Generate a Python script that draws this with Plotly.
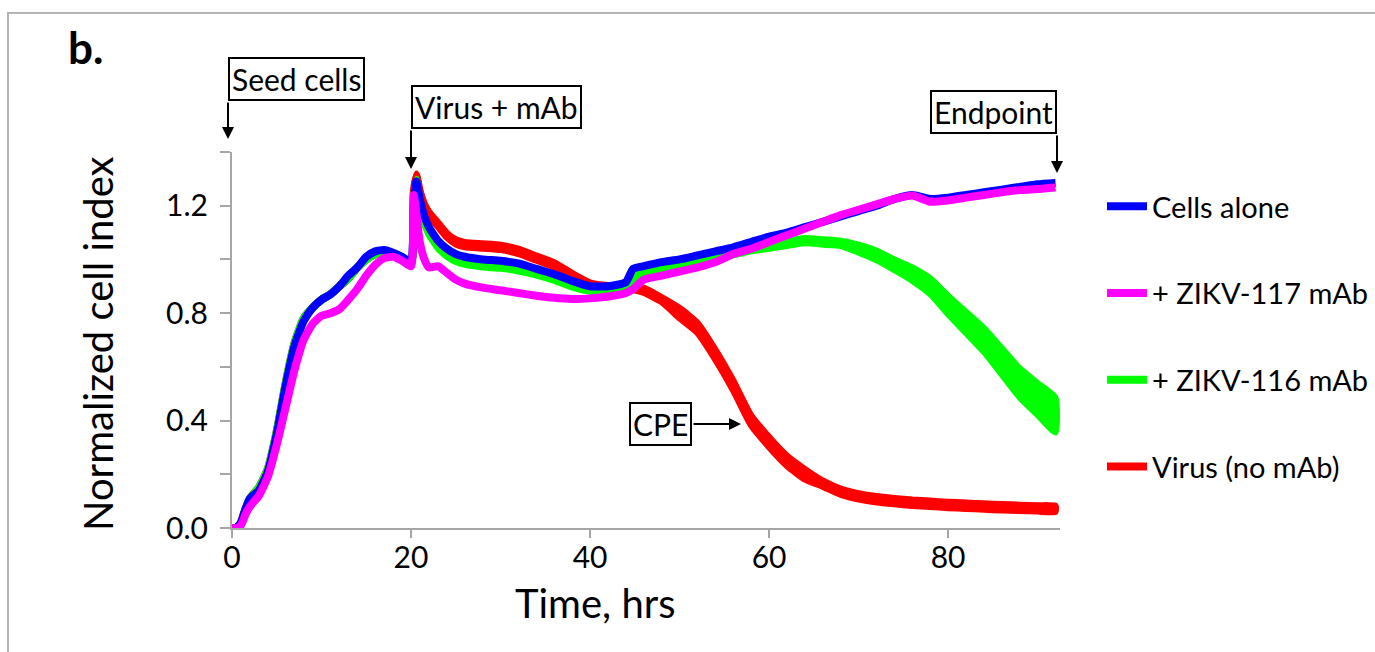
import plotly.graph_objects as go

time_hrs = [0, 0.5, 1, 1.5, 2, 3, 4, 5, 6, 7, 8, 9, 10, 11, 12, 13, 14, 15, 16, 17, 18, 19, 20,
            20.3, 20.6, 21, 21.5, 22, 23, 24, 25, 26, 28, 30, 32, 34, 36, 38, 40, 42, 44, 44.8,
            46, 48, 50, 52, 54, 56, 58, 60, 62, 64, 66, 68, 70, 72, 74, 76, 78, 80, 82, 84, 86, 88, 90, 92]

cells_alone = [0, 0, 0.02, 0.07, 0.11, 0.14, 0.21, 0.35, 0.53, 0.68, 0.77, 0.82, 0.85, 0.87, 0.90, 0.94, 0.97, 1.01, 1.03, 1.035, 1.025, 1.01, 0.99,
               1.20, 1.29, 1.22, 1.16, 1.12, 1.07, 1.04, 1.02, 1.01, 1.0, 0.995, 0.985, 0.965, 0.945, 0.92, 0.90, 0.90, 0.915, 0.965,
               0.975, 0.99, 1.0, 1.015, 1.03, 1.045, 1.065, 1.085, 1.10, 1.12, 1.14, 1.16, 1.18, 1.20, 1.225, 1.24, 1.225, 1.23, 1.24, 1.25, 1.26, 1.27, 1.28, 1.285]

zikv117 = [0, 0, 0.01, 0.05, 0.08, 0.12, 0.19, 0.31, 0.45, 0.59, 0.70, 0.76, 0.79, 0.80, 0.815, 0.85, 0.89, 0.94, 0.98, 1.005, 1.01, 0.995, 0.975,
           1.24, 1.17, 1.06, 1.0, 0.97, 0.975, 0.95, 0.925, 0.91, 0.895, 0.885, 0.875, 0.865, 0.857, 0.853, 0.855, 0.862, 0.875, 0.89,
           0.925, 0.94, 0.955, 0.97, 0.99, 1.02, 1.04, 1.065, 1.09, 1.115, 1.14, 1.165, 1.185, 1.205, 1.225, 1.238, 1.215, 1.22, 1.23, 1.24, 1.25, 1.258, 1.262, 1.268]

zikv116 = [0, 0, 0.02, 0.07, 0.11, 0.15, 0.22, 0.36, 0.54, 0.69, 0.78, 0.82, 0.85, 0.87, 0.90, 0.93, 0.97, 1.0, 1.02, 1.03, 1.02, 1.0, 0.98,
           1.22, 1.29, 1.20, 1.14, 1.10, 1.05, 1.02, 1.0, 0.99, 0.98, 0.975, 0.965, 0.95, 0.93, 0.905, 0.89, 0.89, 0.90, 0.93,
           0.945, 0.96, 0.975, 0.99, 1.01, 1.025, 1.04, 1.05, 1.06, 1.07, 1.065, 1.06, 1.04, 1.015, 0.98, 0.945, 0.90, 0.83, 0.765, 0.70, 0.62, 0.54, 0.48, 0.42]
zikv116_sd = [0.004] * 23 + [0.01] * 19 + [0.01] * 12 + [0.015, 0.018, 0.02, 0.025, 0.03, 0.035, 0.04, 0.045, 0.05, 0.055, 0.06, 0.065]

virus_no_mab = [0, 0, 0.02, 0.07, 0.11, 0.15, 0.22, 0.36, 0.54, 0.69, 0.78, 0.82, 0.85, 0.87, 0.90, 0.93, 0.97, 1.0, 1.02, 1.03, 1.02, 1.0, 0.985,
                1.25, 1.31, 1.25, 1.20, 1.17, 1.13, 1.09, 1.065, 1.055, 1.05, 1.045, 1.03, 1.005, 0.98, 0.94, 0.905, 0.895, 0.895, 0.895,
                0.885, 0.85, 0.80, 0.745, 0.645, 0.53, 0.40, 0.32, 0.25, 0.20, 0.165, 0.135, 0.118, 0.107, 0.10, 0.094, 0.09, 0.086, 0.083, 0.08, 0.077, 0.075, 0.073, 0.071]
virus_sd = [0.004] * 23 + [0.01] * 21 + [0.02] * 8 + [0.012] * 14

series = [
    ("Virus (no mAb)", virus_no_mab, virus_sd, "#ff0000", 4),
    ("+ ZIKV-116 mAb", zikv116, zikv116_sd, "#00ff00", 3),
    ("Cells alone", cells_alone, None, "#0000ff", 1),
    ("+ ZIKV-117 mAb", zikv117, None, "#ff00ff", 2),
]

FONT = "Lato"
fig = go.Figure()
for name, vals, sd, color, rank in series:
    if sd is not None:
        upper = [v + s for v, s in zip(vals, sd)]
        lower = [v - s for v, s in zip(vals, sd)]
        fig.add_trace(go.Scatter(x=time_hrs + time_hrs[::-1], y=upper + lower[::-1], fill="toself",
                                 fillcolor=color, line=dict(color=color, width=6, shape="spline", smoothing=0.5),
                                 mode="lines", showlegend=False, hoverinfo="skip", cliponaxis=False))
    fig.add_trace(go.Scatter(x=time_hrs, y=vals, mode="lines", name=name, legendgroup=name, legendrank=rank,
                             line=dict(color=color, width=8, shape="spline", smoothing=0.5), cliponaxis=False))

def px(xp):
    return (xp - 232) / 828

def py(yp):
    return (528 - yp) / 376

ann = []
box = dict(bordercolor="black", borderwidth=2, bgcolor="white", borderpad=2, font=dict(family=FONT, size=30, color="black"),
           xref="paper", yref="paper", showarrow=False)
ann.append(dict(text="Seed cells", x=px(228), y=py(101), xanchor="left", yanchor="bottom", **box))
ann.append(dict(text="Virus + mAb", x=px(411), y=py(129), xanchor="left", yanchor="bottom", **box))
ann.append(dict(text="Endpoint", x=px(1057), y=py(134), xanchor="right", yanchor="bottom", **box))
ann.append(dict(text="CPE", x=px(692), y=py(424), xanchor="right", yanchor="middle", **box))

arr = dict(text="", showarrow=True, arrowhead=2, arrowsize=1.2, arrowwidth=2, arrowcolor="black",
           xref="paper", yref="paper", standoff=0, startstandoff=0)
ann.append(dict(x=px(228), y=py(139), ax=0, ay=-38, **arr))
ann.append(dict(x=px(411), y=py(169), ax=0, ay=-40, **arr))
ann.append(dict(x=px(1057), y=py(173), ax=0, ay=-39, **arr))
ann.append(dict(x=px(741), y=py(424), ax=-49, ay=0, **arr))

center = dict(xref="paper", yref="paper", showarrow=False, xanchor="center", yanchor="middle")
ann.append(dict(text="<b>b.</b>", x=px(85), y=py(47), font=dict(family=FONT, size=44, color="black"), **center))
ann.append(dict(text="Normalized cell index", x=px(98), y=py(344), textangle=-90,
                font=dict(family=FONT, size=40, color="black"), **center))
ann.append(dict(text="Time, hrs", x=px(595), y=py(603), font=dict(family=FONT, size=40, color="black"), **center))

fig.update_layout(
    width=1375, height=652,
    margin=dict(l=232, r=315, t=152, b=124, autoexpand=False),
    paper_bgcolor="white", plot_bgcolor="white",
    font=dict(family=FONT, color="black"),
    annotations=ann,
    shapes=[dict(type="rect", xref="paper", yref="paper", x0=px(8), x1=px(1380), y0=py(665), y1=py(13),
                 line=dict(color="#b4b4b4", width=2), layer="below")],
    legend=dict(x=px(1102), y=py(181), xanchor="left", yanchor="top", font=dict(family=FONT, size=29, color="black"),
                tracegroupgap=46, itemwidth=40, bgcolor="rgba(0,0,0,0)"),
    xaxis=dict(range=[0, 92.5], tickvals=[0, 20, 40, 60, 80], showline=True, linecolor="#a6a6a6", linewidth=2,
               ticks="outside", ticklen=8, tickcolor="#a6a6a6", tickwidth=2, showgrid=False, zeroline=False,
               ticklabelstandoff=-6, tickfont=dict(family=FONT, size=30, color="black")),
    yaxis=dict(range=[0, 1.4], tickvals=[0, 0.4, 0.8, 1.2], ticktext=["0.0", "0.4", "0.8", "1.2"], showline=True,
               linecolor="#a6a6a6", linewidth=2, ticks="outside", ticklen=10, tickcolor="#a6a6a6", tickwidth=2,
               minor=dict(tickvals=[0.2, 0.6, 1.0, 1.4], ticks="outside", ticklen=10, tickcolor="#a6a6a6", tickwidth=2),
               showgrid=False, zeroline=False, ticklabelstandoff=6,
               tickfont=dict(family=FONT, size=30, color="black")),
)

fig.write_html("out.html")
